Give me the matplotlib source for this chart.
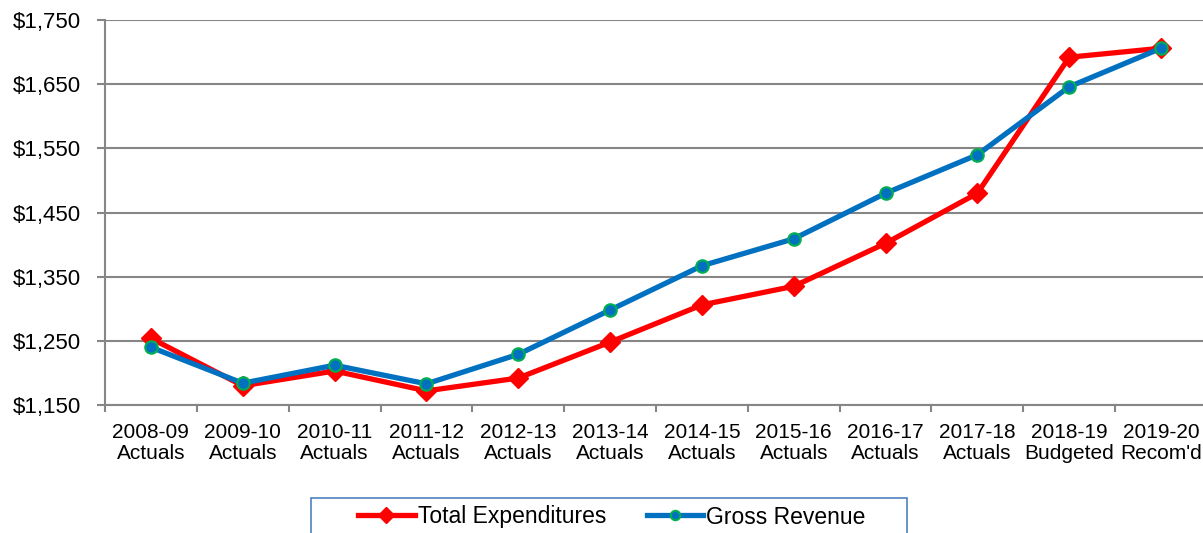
import matplotlib.pyplot as plt
from matplotlib.patches import Rectangle
from matplotlib.ticker import FuncFormatter

plt.rcParams['font.family'] = ['Liberation Sans', 'DejaVu Sans']

years = ['2008-09', '2009-10', '2010-11', '2011-12', '2012-13', '2013-14',
         '2014-15', '2015-16', '2016-17', '2017-18', '2018-19', '2019-20']
kinds = ['Actuals'] * 10 + ['Budgeted', "Recom'd"]
labels = [y + '\n' + k for y, k in zip(years, kinds)]

expenditures = [1254, 1180, 1203, 1172, 1192, 1248, 1306, 1335, 1402, 1480, 1692, 1706]
revenue = [1240, 1184, 1212, 1183, 1229, 1298, 1367, 1409, 1480, 1540, 1646, 1706]

fig = plt.figure(figsize=(12.03, 5.33), dpi=100)
ax = fig.add_axes([105 / 1203, 1 - 405 / 533, 1102 / 1203, 385 / 533])

x = range(len(years))
ax.plot(x, expenditures, color='#FF0000', lw=3.8, marker='D', ms=10.5,
        mec='#FF0000', mfc='#FF0000', label='Total Expenditures', zorder=3)
ax.plot(x, revenue, color='#0070C0', lw=3.8, marker='o', ms=9,
        mec='#00B050', mew=1.5, mfc='#0070C0', label='Gross Revenue', zorder=4)

ax.set_xlim(-0.5, len(years) - 0.5)
ax.set_ylim(1150, 1750)
ax.set_yticks(range(1150, 1751, 100))
ax.yaxis.set_major_formatter(FuncFormatter(lambda v, p: '${:,.0f}'.format(v)))
ax.set_xticks(x)
ax.set_xticklabels(labels, linespacing=1.15)
ax.set_xticks([i + 0.5 for i in range(-1, len(years))], minor=True)
ax.tick_params(axis='x', which='major', length=0, pad=13, labelsize=15)
ax.tick_params(axis='x', which='minor', length=5, width=1.5, color='#868686')
ax.tick_params(axis='y', length=6, width=1.5, color='#868686', labelsize=16, pad=11)

ax.grid(axis='y', color='#868686', lw=1.5)
ax.set_axisbelow(True)
for s in ['top', 'right']:
    ax.spines[s].set_visible(False)
for s in ['left', 'bottom']:
    ax.spines[s].set_color('#868686')
    ax.spines[s].set_linewidth(1.5)

# legend box drawn separately so the side padding can be wider than the top
fig.patches.append(Rectangle((311 / 1203, -0.05), 596 / 1203, 0.05 + 35 / 533,
                             transform=fig.transFigure, fill=False,
                             edgecolor='#4F81BD', lw=1.2))
fig.legend(loc='center', bbox_to_anchor=(612 / 1203, 1 - 517 / 533),
           ncol=2, fontsize=16.5, frameon=False, handlelength=2.45,
           columnspacing=1.8, borderpad=0, handletextpad=0.13, borderaxespad=0,
           markerscale=0.75)

fig.savefig('out.png', dpi=100)
